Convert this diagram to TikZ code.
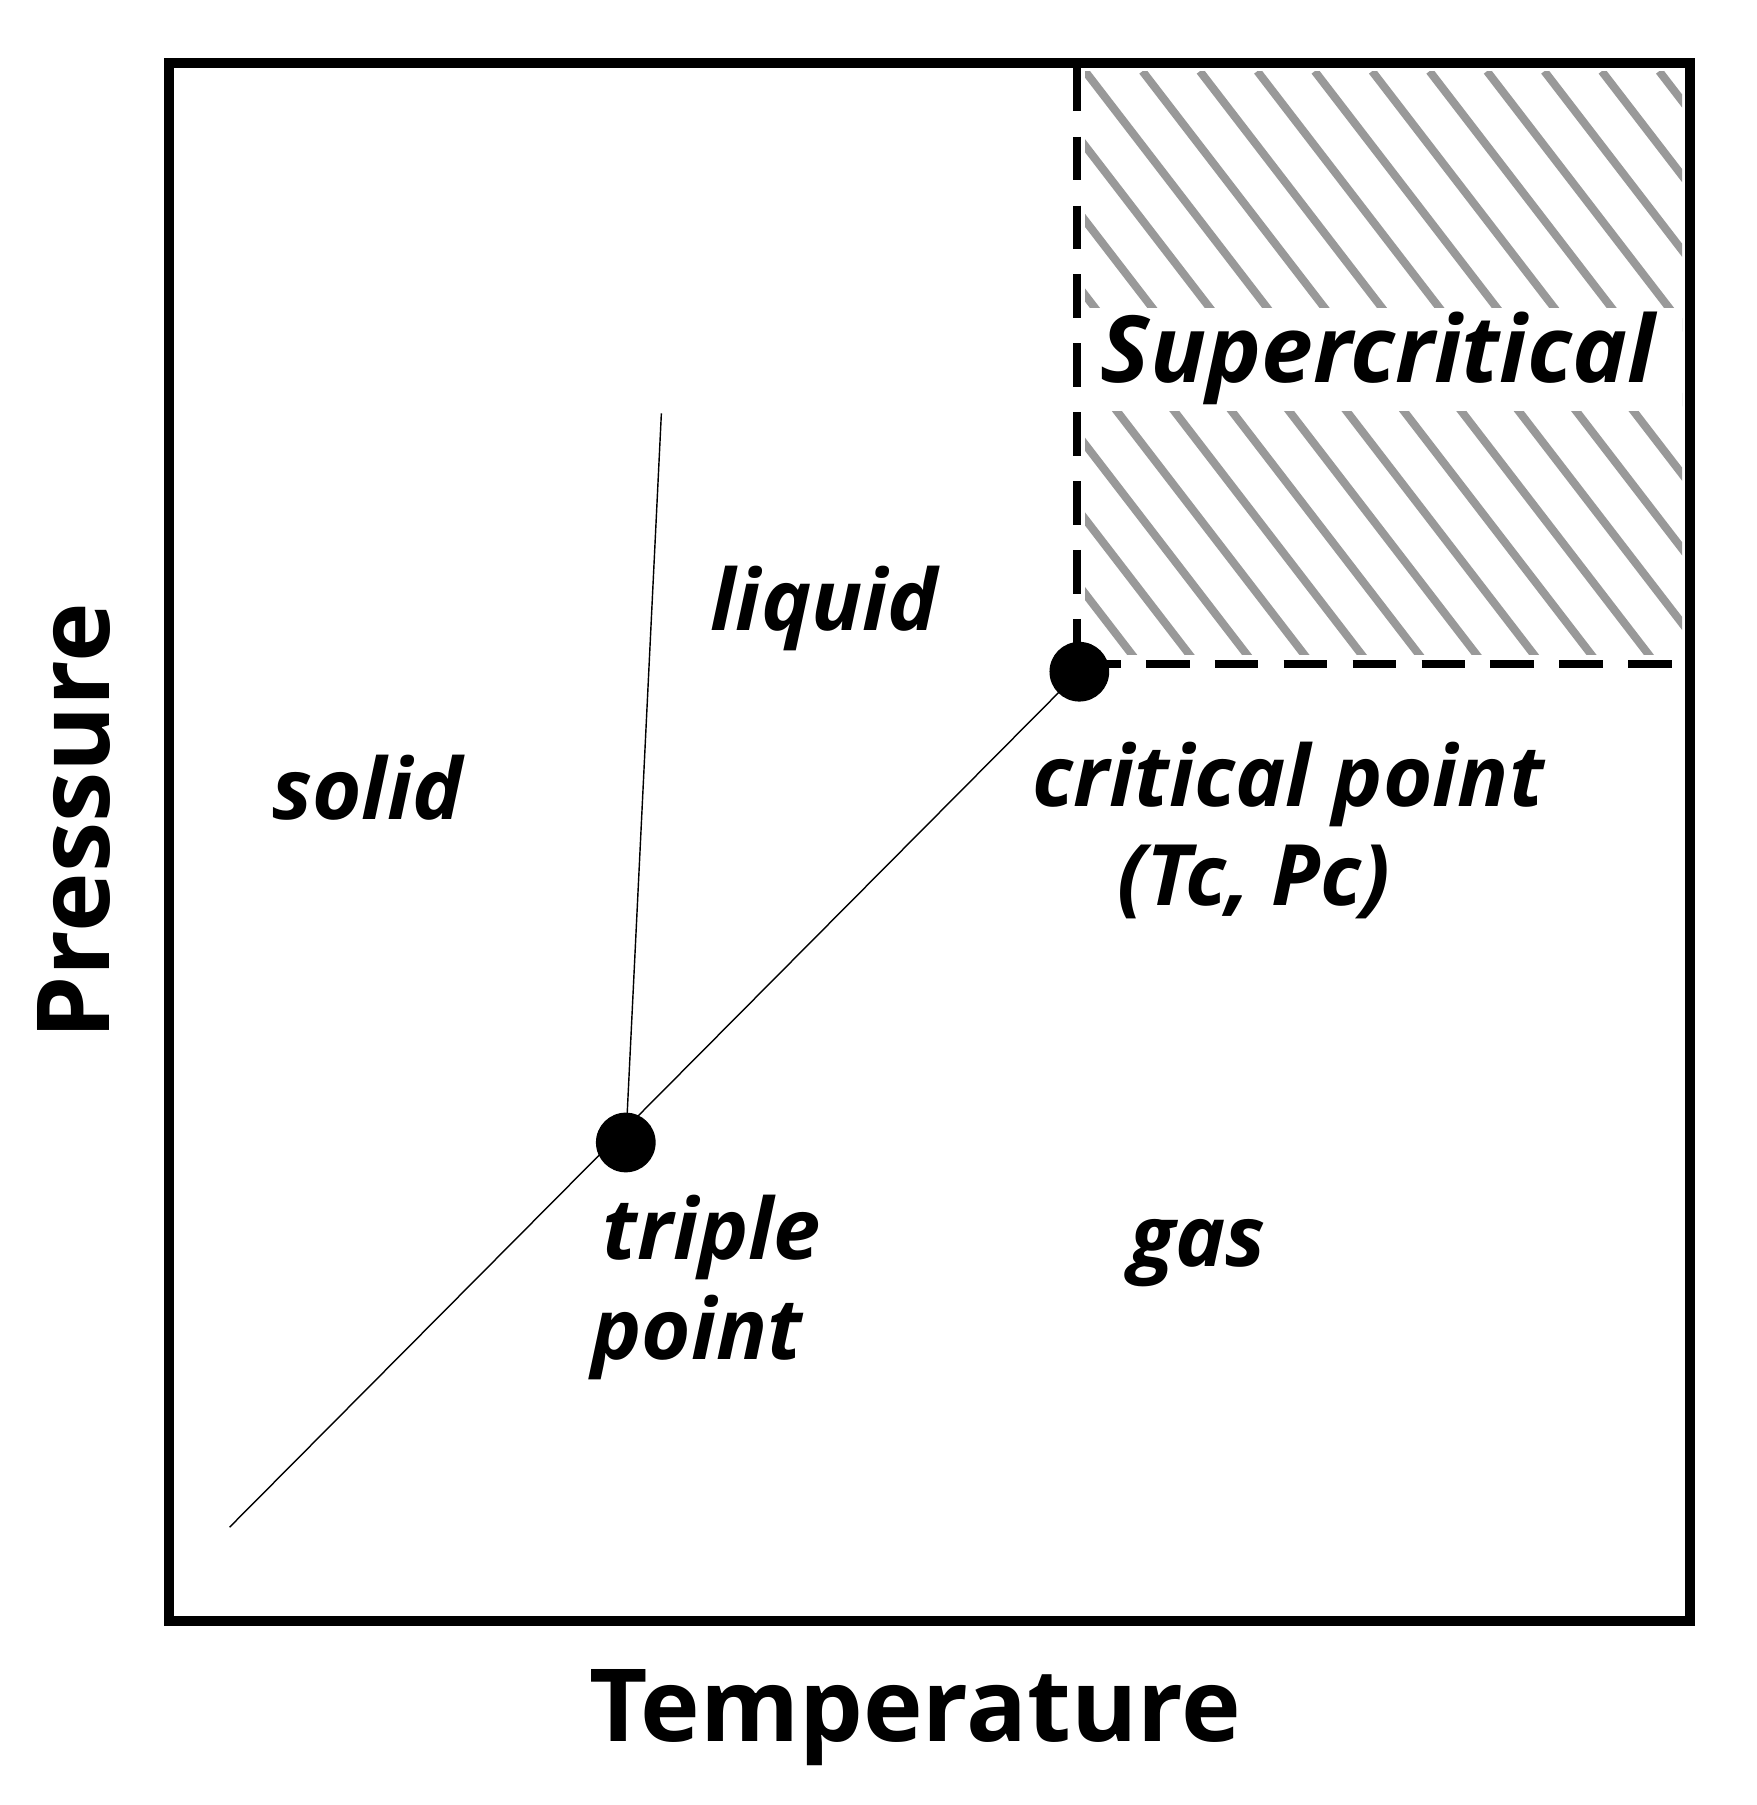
\documentclass[tikz,border=0pt]{standalone}
\usepackage{fontspec}
\setmainfont{Open Sans}
\begin{document}
\begin{tikzpicture}[x=0.1mm,y=-0.1mm,
  lbl/.style={font=\fontsize{21}{25}\selectfont\bfseries\itshape},
  axl/.style={font=\fontsize{25}{30}\selectfont\bfseries},
  dot/.style={circle,fill=black,minimum size=5.2mm,inner sep=0pt},
  thin line/.style={line width=0.35pt}]
\useasboundingbox (0,0) rectangle (1530,1572);
% hatch
\begin{scope}
\clip (945,62) rectangle (1465,570);
\foreach \i in {-16,...,12}
  \draw[gray!80,line width=0.7mm] (945+\i*50,62) -- ++(500,650);
\end{scope}
\fill[white] (945,268) rectangle (1465,358);
\node[lbl,font=\fontsize{23}{27}\selectfont\bfseries\itshape] (sc) at (1200,312) {Supercritical};
% box
\draw[line width=0.9mm] (147,55) rectangle (1472,1412);
\coordinate (vtop) at (938,59);
\coordinate (hend) at (1468,578);
\node[dot] (cp) at (940,585) {};
\node[dot] (tp) at (545,995) {};
\coordinate (low) at (200,1330);
\coordinate (melt) at (576,360);
\draw[line width=0.7mm,dash pattern=on 3.8mm off 2.2mm] (vtop) -- (938,578);
\draw[line width=0.7mm,dash pattern=on 3.8mm off 2.2mm] (938,578) -- (hend);
\draw[thin line] (low) -- (cp.center);
\draw[thin line] (tp.center) -- (melt);
\node[lbl] (solid) at (320,686) {solid};
\node[lbl] (liquid) at (718,530) {liquid};
\node[lbl] (crit) at (1122,683) {critical point};
\node[lbl] (tcpc) at (1092,768) {(Tc, Pc)};
\node[lbl] (trip) at (620,1078) {triple};
\node[lbl] (pt) at (607,1165) {point};
\node[lbl] (gas) at (1043,1091) {gas};
\node[axl,rotate=90] (pr) at (64,715) {Pressure};
\node[axl] (temp) at (797,1496) {Temperature};
\end{tikzpicture}
\end{document}
